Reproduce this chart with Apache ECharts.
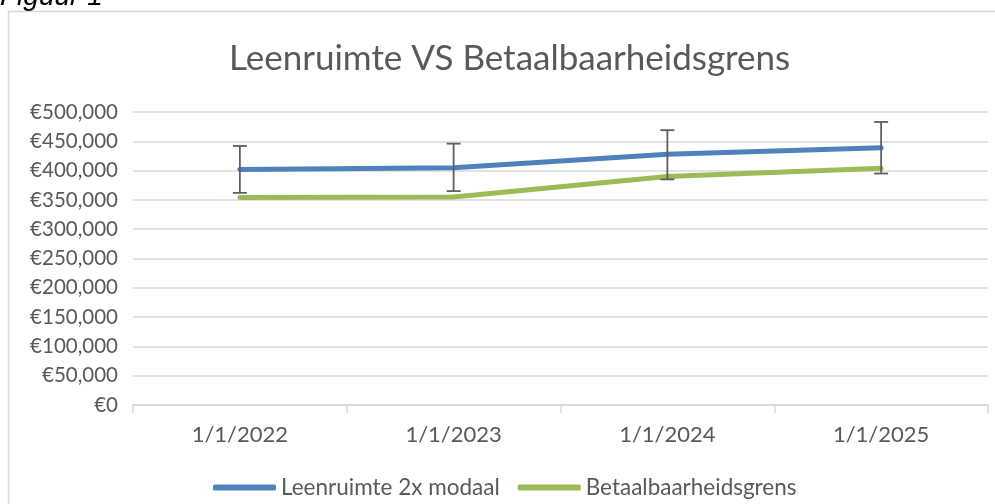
<!DOCTYPE html>
<html>
<head>
<meta charset="utf-8">
<script src="https://cdn.jsdelivr.net/npm/echarts@6/dist/echarts.min.js"></script>
<style>
  html, body { margin: 0; padding: 0; background: #fff; }
  #chart { width: 995px; height: 504px; }
</style>
</head>
<body>
<div id="chart"></div>
<script>
// data
var categories = ['1/1/2022', '1/1/2023', '1/1/2024', '1/1/2025'];
var leenruimte = [402000, 405000, 428000, 439000];
var betaalbaar = [354000, 355000, 390000, 404000];
// error bar ends for the blue series
var errLow = [362000, 365000, 385000, 395000];
var errHigh = [442000, 446000, 469000, 483000];

var errData = categories.map(function (c, i) {
  return [i, errLow[i], errHigh[i]];
});

var chart = echarts.init(document.getElementById('chart'));

var option = {
  animation: false,
  textStyle: { fontFamily: 'Lato' },
  graphic: [
    {
      type: 'rect',
      shape: { x: 8.5, y: 11.5, width: 1000, height: 520 },
      style: { fill: 'none', stroke: '#d9d9d9', lineWidth: 1.5 },
      silent: true
    },
    {
      type: 'text',
      left: 0,
      top: -17,
      style: { text: 'Figuur 1', fontFamily: 'Liberation Sans', fontStyle: 'italic', fontSize: 28, fill: '#000' }
    }
  ],
  title: {
    text: 'Leenruimte VS Betaalbaarheidsgrens',
    left: 224,
    top: 36,
    textStyle: { fontFamily: 'Lato', fontSize: 35, fontWeight: 'normal', color: '#595959' }
  },
  legend: {
    bottom: 0,
    left: 208,
    itemWidth: 63,
    itemHeight: 6,
    itemGap: 18,
    icon: 'roundRect',
    data: ['Leenruimte 2x modaal', 'Betaalbaarheidsgrens'],
    textStyle: { fontFamily: 'Lato', fontSize: 22.5, color: '#595959' }
  },
  grid: { left: 133, right: 7, top: 112, bottom: 99 },
  xAxis: {
    type: 'category',
    data: categories,
    boundaryGap: true,
    axisLine: { lineStyle: { color: '#d9d9d9', width: 2 } },
    axisTick: { show: true, length: 8, lineStyle: { color: '#d9d9d9', width: 1.5 } },
    axisLabel: { fontFamily: 'Lato', fontSize: 22, color: '#595959', margin: 19 }
  },
  yAxis: {
    type: 'value',
    min: 0,
    max: 500000,
    interval: 50000,
    axisLine: { show: false },
    axisTick: { show: false },
    splitLine: { lineStyle: { color: '#d9d9d9', width: 1.5 } },
    axisLabel: {
      fontFamily: 'Lato', fontSize: 20.5, color: '#595959', margin: 15,
      formatter: function (v) { return '€' + v.toLocaleString('en-US'); }
    }
  },
  series: [
    {
      name: 'Leenruimte 2x modaal',
      type: 'line',
      data: leenruimte,
      symbol: 'none',
      itemStyle: { color: '#4f81bd' },
      lineStyle: { width: 5, color: '#4f81bd', cap: 'round' },
      z: 3
    },
    {
      name: 'Betaalbaarheidsgrens',
      type: 'line',
      data: betaalbaar,
      symbol: 'none',
      itemStyle: { color: '#9bbb59' },
      lineStyle: { width: 5, color: '#9bbb59', cap: 'round' },
      z: 3
    },
    {
      name: 'fout',
      type: 'custom',
      data: errData,
      z: 4,
      renderItem: function (params, api) {
        var x = api.value(0);
        var top = api.coord([x, api.value(2)]);
        var bot = api.coord([x, api.value(1)]);
        var half = 7;
        var st = { stroke: '#5f5f5f', lineWidth: 1.8 };
        return {
          type: 'group',
          children: [
            { type: 'line', shape: { x1: top[0], y1: top[1], x2: bot[0], y2: bot[1] }, style: st },
            { type: 'line', shape: { x1: top[0] - half, y1: top[1], x2: top[0] + half, y2: top[1] }, style: st },
            { type: 'line', shape: { x1: bot[0] - half, y1: bot[1], x2: bot[0] + half, y2: bot[1] }, style: st }
          ]
        };
      }
    }
  ]
};

chart.setOption(option);
</script>
</body>
</html>
